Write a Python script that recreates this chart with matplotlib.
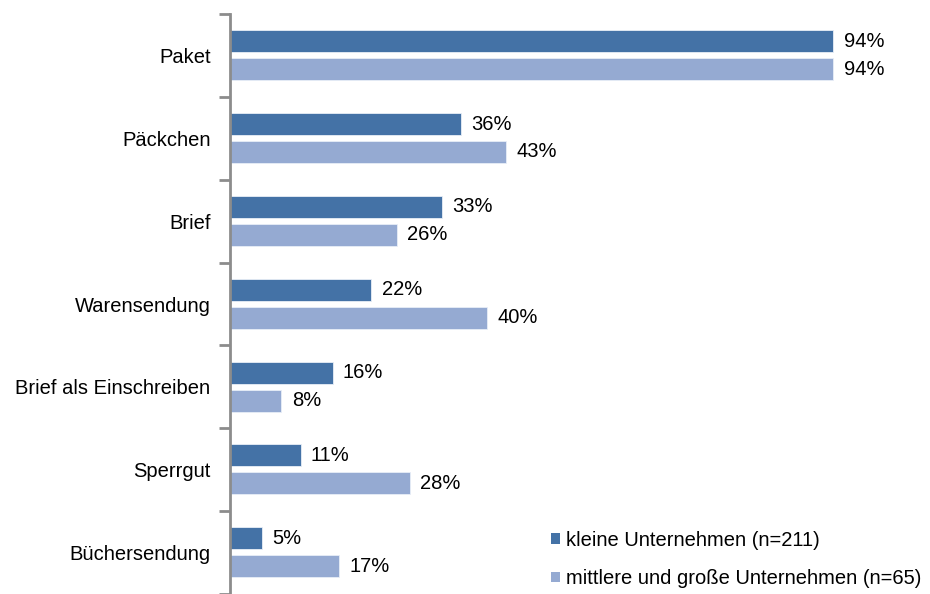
import numpy as np
import matplotlib.pyplot as plt
from matplotlib.patches import Patch

categories = ["Paket", "Päckchen", "Brief", "Warensendung",
              "Brief als Einschreiben", "Sperrgut", "Büchersendung"]
small = [94, 36, 33, 22, 16, 11, 5]
large = [94, 43, 26, 40, 8, 28, 17]
series_names = ["kleine Unternehmen (n=211)",
                "mittlere und große Unternehmen (n=65)"]

dark = "#4472a6"
light = "#95aad2"
fs = 14.5

plt.rcParams['font.family'] = ['Liberation Sans', 'DejaVu Sans']

fig = plt.figure(figsize=(9.3, 5.94), dpi=100)
ax = fig.add_axes([230 / 930, 0.0, 642 / 930, 580 / 594])

y = np.arange(len(categories))
h = 0.265
ax.barh(y - 0.172, small, height=h, color=dark, edgecolor="#e8eef7", linewidth=0.6)
ax.barh(y + 0.165, large, height=h, color=light, edgecolor="#e8eef7", linewidth=0.6)

for yi, v in zip(y, small):
    ax.text(v + 1.6, yi - 0.172, f"{v}%", va="center", ha="left", fontsize=fs)
for yi, v in zip(y, large):
    ax.text(v + 1.6, yi + 0.165, f"{v}%", va="center", ha="left", fontsize=fs)

ax.set_xlim(0, 100)
ax.set_ylim(len(categories) - 0.5, -0.5)

# category labels without tick marks, boundary marks as minor ticks
ax.set_yticks(y)
ax.set_yticklabels(categories, fontsize=fs)
ax.tick_params(axis="y", which="major", length=0, pad=14)
ax.set_yticks(np.arange(-0.5, len(categories), 1.0), minor=True)
ax.tick_params(axis="y", which="minor", length=8, width=2, color="#8c8c8c")

ax.set_xticks([])
for side in ["top", "right", "bottom"]:
    ax.spines[side].set_visible(False)
ax.spines["left"].set_color("#8c8c8c")
ax.spines["left"].set_linewidth(2)

handles = [Patch(facecolor=dark), Patch(facecolor=light)]
fig.legend(handles, series_names, loc="upper left",
           bbox_to_anchor=(543 / 930, 1 - 523 / 594), frameon=False,
           fontsize=fs, handlelength=0.45, handleheight=0.45,
           handletextpad=0.3, labelspacing=0.95, borderaxespad=0)

fig.savefig("out.png", dpi=100)
